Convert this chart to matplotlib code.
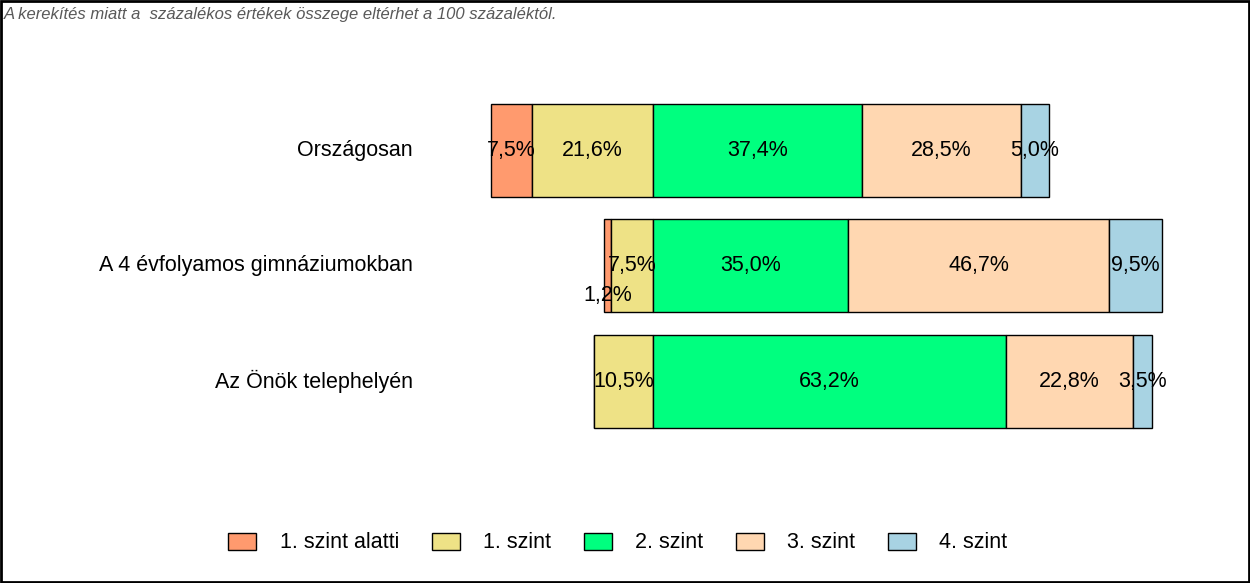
import matplotlib.pyplot as plt
import matplotlib.transforms as mtransforms
import numpy as np
from matplotlib.patches import Rectangle

plt.rcParams['font.family'] = ['Liberation Sans', 'DejaVu Sans']

categories = ['Országosan', 'A 4 évfolyamos gimnáziumokban', 'Az Önök telephelyén']
levels = ['1. szint alatti', '1. szint', '2. szint', '3. szint', '4. szint']
below = [7.5, 1.2, 0.0]
lvl1 = [21.6, 7.5, 10.5]
lvl2 = [37.4, 35.0, 63.2]
lvl3 = [28.5, 46.7, 22.8]
lvl4 = [5.0, 9.5, 3.5]
colors = ['#FF9A6E', '#EEE286', '#00FF7F', '#FFD7B1', '#A8D3E3']
note = 'A kerekítés miatt a  százalékos értékek összege eltérhet a 100 százaléktól.'

W, H = 1250, 583
fs = 15.5
fig = plt.figure(figsize=(W / 100, H / 100), dpi=100)
# axes in pixel terms: x 480..1200, y 90..440 (from top)
ax = fig.add_axes([480 / W, (H - 440) / H, 720 / W, 350 / H])
scale = 5.58  # px per percent
ax.set_xlim(-(653 - 480) / scale, (1200 - 653) / scale)
ax.set_ylim(2.51, -0.52)
ax.axis('off')

series = [below, lvl1, lvl2, lvl3, lvl4]
y = np.arange(len(categories))
left = -(np.array(below) + np.array(lvl1))
for i, vals in enumerate(series):
    vals = np.array(vals)
    ax.barh(y, vals, left=left, height=0.805, color=colors[i],
            edgecolor='black', linewidth=1, label=levels[i])
    for j, v in enumerate(vals):
        if v <= 0:
            continue
        cy = y[j] + 0.26 if v < 2 else y[j]
        ax.text(left[j] + v / 2, cy, f'{v:.1f}%'.replace('.', ','),
                ha='center', va='center', fontsize=fs, color='black')
    left = left + vals

trans = mtransforms.blended_transform_factory(fig.transFigure, ax.transData)
for j, c in enumerate(categories):
    ax.text(413 / W, y[j], c, transform=trans, fontsize=fs, ha='right', va='center')

fig.text(4 / W, 1 - 14 / H, note, fontsize=12, style='italic', color='#595959',
         ha='left', va='center')

fig.legend(loc='center', bbox_to_anchor=(618 / W, 1 - 543 / H), ncol=5,
           frameon=False, fontsize=fs, handlelength=1.3, handleheight=0.84,
           handletextpad=1.1, columnspacing=1.5)

fig.patches.append(Rectangle((0.001, 0.002), 0.998, 0.996, transform=fig.transFigure,
                             fill=False, edgecolor='black', linewidth=2))

fig.savefig('out.png', dpi=100, facecolor='white')
